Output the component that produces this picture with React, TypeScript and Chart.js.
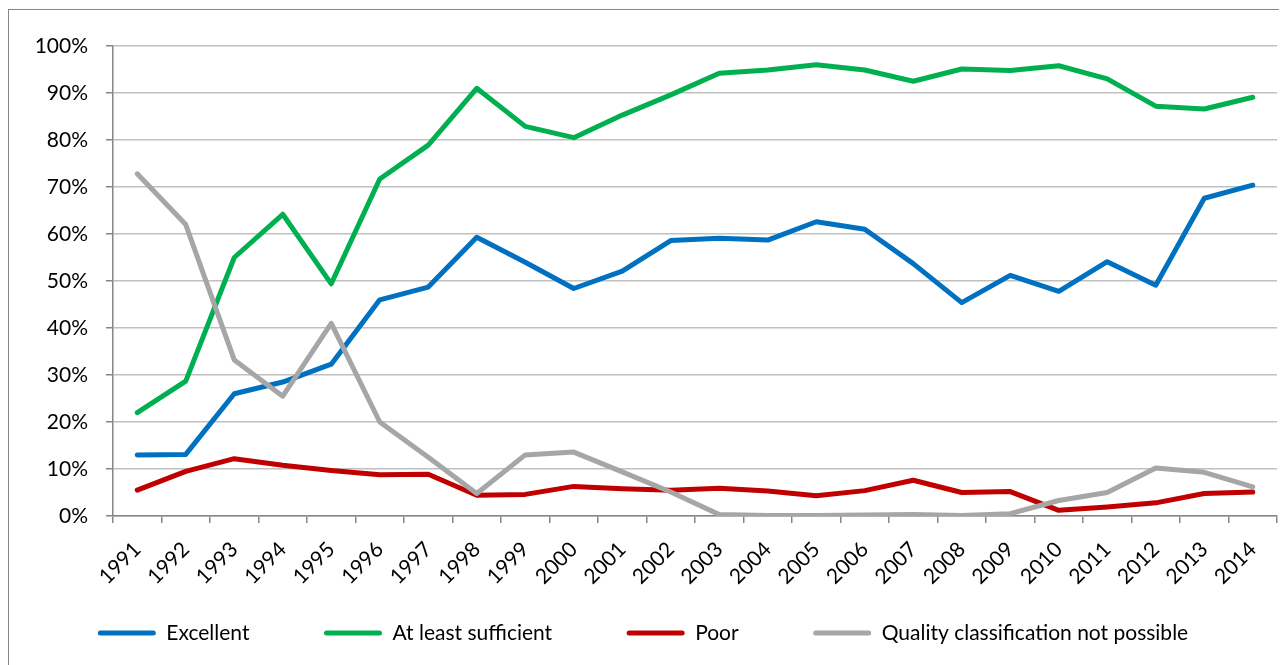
import React, { useEffect, useRef } from "react";
import { Chart, registerables } from "chart.js";

Chart.register(...registerables);

const years = ["1991","1992","1993","1994","1995","1996","1997","1998","1999","2000","2001","2002","2003","2004","2005","2006","2007","2008","2009","2010","2011","2012","2013","2014"];
const excellent = [13.0,13.1,26.0,28.5,32.3,46.0,48.7,59.3,54.0,48.4,52.1,58.6,59.1,58.7,62.6,61.0,53.7,45.4,51.2,47.8,54.1,49.1,67.6,70.4];
const sufficient = [22.0,28.7,55.0,64.2,49.4,71.7,78.9,91.0,82.9,80.5,85.3,89.6,94.2,94.9,96.0,94.9,92.5,95.1,94.8,95.8,93.0,87.2,86.6,89.1];
const poor = [5.5,9.5,12.2,10.8,9.7,8.8,8.9,4.4,4.6,6.3,5.8,5.5,5.9,5.3,4.3,5.4,7.6,5.0,5.2,1.2,1.9,2.8,4.8,5.1];
const notPossible = [72.8,62.0,33.2,25.5,41.0,20.0,12.5,4.8,13.0,13.6,9.4,5.1,0.3,0.1,0.1,0.2,0.3,0.1,0.5,3.3,5.0,10.2,9.3,6.2];
const seriesNames = ["Excellent", "At least sufficient", "Poor", "Quality classification not possible"];
const seriesColors = ["#0070c0", "#00b050", "#c00000", "#a6a6a6"];

const FONT = "Lato, 'Open Sans', sans-serif";
const GAP = "            ";

export default function App() {
  const ref = useRef<HTMLCanvasElement>(null);
  useEffect(() => {
    document.body.style.overflow = "hidden";
    const values = [excellent, sufficient, poor, notPossible];
    const orders = [3, 2, 1, 0];
    const chart = new Chart(ref.current!, {
      type: "line",
      data: {
        labels: years,
        datasets: values.map((d, i) => ({
          label: seriesNames[i],
          data: d,
          borderColor: seriesColors[i],
          backgroundColor: seriesColors[i],
          borderWidth: 5,
          pointRadius: 0,
          pointHoverRadius: 0,
          borderCapStyle: "round" as const,
          borderJoinStyle: "round" as const,
          tension: 0,
          order: orders[i],
        })),
      },
      options: {
        animation: false,
        responsive: false,
        events: [],
        layout: { padding: { top: 36, right: 22, bottom: 16.5, left: 0 } },
        scales: {
          x: {
            offset: true,
            grid: {
              display: true,
              offset: true,
              drawOnChartArea: false,
              drawTicks: true,
              tickLength: 7,
              color: "#868686",
              lineWidth: 1.5,
            },
            border: { color: "#868686", width: 1.5 },
            ticks: {
              autoSkip: false,
              minRotation: 45,
              maxRotation: 45,
              color: "#000",
              font: { family: FONT, size: 21 },
              padding: 14,
            },
            afterFit: (s: any) => { s.height = 96.5; },
          },
          y: {
            min: 0,
            max: 100,
            ticks: {
              stepSize: 10,
              callback: (v: any) => v + "%",
              color: "#000",
              font: { family: FONT, size: 21 },
              padding: 18,
            },
            grid: {
              color: "#c0c0c0",
              lineWidth: 1.5,
              tickColor: "#868686",
              tickLength: 7,
            },
            border: { color: "#868686", width: 1.5 },
            afterFit: (s: any) => { s.width = 104; },
          },
        },
        plugins: {
          tooltip: { enabled: false },
          legend: {
            position: "bottom",
            labels: {
              boxWidth: 58,
              boxHeight: 5,
              padding: 10,
              color: "#000",
              font: { family: FONT, size: 21 },
              useBorderRadius: true,
              borderRadius: 2.5,
              sort: (a: any, b: any) => a.datasetIndex - b.datasetIndex,
              generateLabels: (c: any) =>
                (Chart.defaults.plugins.legend.labels.generateLabels as any)(c).map((l: any) => ({
                  ...l,
                  lineWidth: 0,
                  text: l.datasetIndex < seriesNames.length - 1 ? l.text + GAP : l.text,
                })),
            },
          },
        },
      },
    });
    return () => chart.destroy();
  }, []);
  return (
    <div style={{ marginTop: 1, width: 1292, height: 662, border: "1px solid #868686", boxSizing: "border-box" }}>
      <canvas ref={ref} width={1290} height={660} style={{ display: "block" }} />
    </div>
  );
}
